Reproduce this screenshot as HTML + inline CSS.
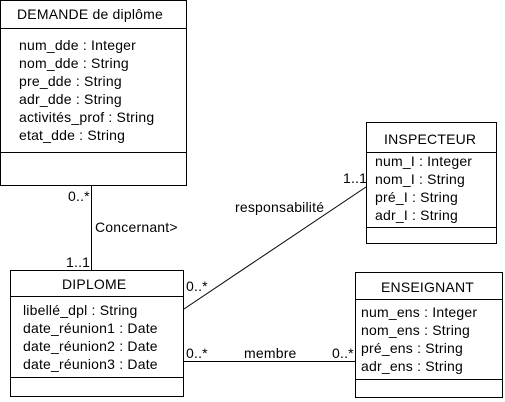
<!DOCTYPE html>
<html><head><meta charset="utf-8"><style>
html,body{margin:0;padding:0;background:#fff;}
svg{display:block;}
text{font-family:"Liberation Sans",sans-serif;font-size:14px;letter-spacing:0.2px;fill:#000;}
</style></head><body>
<svg width="505" height="402" viewBox="0 0 505 402" xmlns="http://www.w3.org/2000/svg">
<g fill="none" stroke="#000" stroke-width="1">
<rect x="0.5" y="0.5" width="186" height="185"/>
<line x1="0" y1="28.5" x2="187" y2="28.5"/>
<line x1="0" y1="152.5" x2="187" y2="152.5"/>
<rect x="366.5" y="122.5" width="130" height="121"/>
<line x1="366" y1="152.5" x2="497" y2="152.5"/>
<line x1="366" y1="227.5" x2="497" y2="227.5"/>
<rect x="10.5" y="270.5" width="173" height="126"/>
<line x1="10" y1="296.5" x2="184" y2="296.5"/>
<line x1="10" y1="377.5" x2="184" y2="377.5"/>
<rect x="355.5" y="272.5" width="147" height="125"/>
<line x1="355" y1="299.5" x2="503" y2="299.5"/>
<line x1="355" y1="379.5" x2="503" y2="379.5"/>
<line x1="91.5" y1="186" x2="91.5" y2="270"/>
<line x1="366" y1="187" x2="184" y2="309"/>
<line x1="184" y1="361.5" x2="355" y2="361.5"/>
</g>
<text x="17" y="19">DEMANDE de diplôme</text>
<text x="19" y="50">num_dde : Integer</text>
<text x="19" y="68">nom_dde : String</text>
<text x="19" y="86">pre_dde : String</text>
<text x="19" y="104">adr_dde : String</text>
<text x="19" y="122">activités_prof : String</text>
<text x="19" y="140">etat_dde : String</text>
<text x="384" y="144">INSPECTEUR</text>
<text x="375" y="166">num_I : Integer</text>
<text x="375" y="184">nom_I : String</text>
<text x="375" y="202">pré_I : String</text>
<text x="375" y="220">adr_I : String</text>
<text x="62" y="289">DIPLOME</text>
<text x="23" y="315">libellé_dpl : String</text>
<text x="23" y="333">date_réunion1 : Date</text>
<text x="23" y="351">date_réunion2 : Date</text>
<text x="23" y="369">date_réunion3 : Date</text>
<text x="381" y="292">ENSEIGNANT</text>
<text x="361" y="317">num_ens : Integer</text>
<text x="361" y="335">nom_ens : String</text>
<text x="361" y="353">pré_ens : String</text>
<text x="361" y="371">adr_ens : String</text>
<text x="68" y="201">0..*</text>
<text x="95" y="232">Concernant&gt;</text>
<text x="66" y="267">1..1</text>
<text x="235" y="212">responsabilité</text>
<text x="343" y="183">1..1</text>
<text x="186" y="291">0..*</text>
<text x="186" y="358">0..*</text>
<text x="244" y="358">membre</text>
<text x="332" y="358">0..*</text>
</svg>
</body></html>
